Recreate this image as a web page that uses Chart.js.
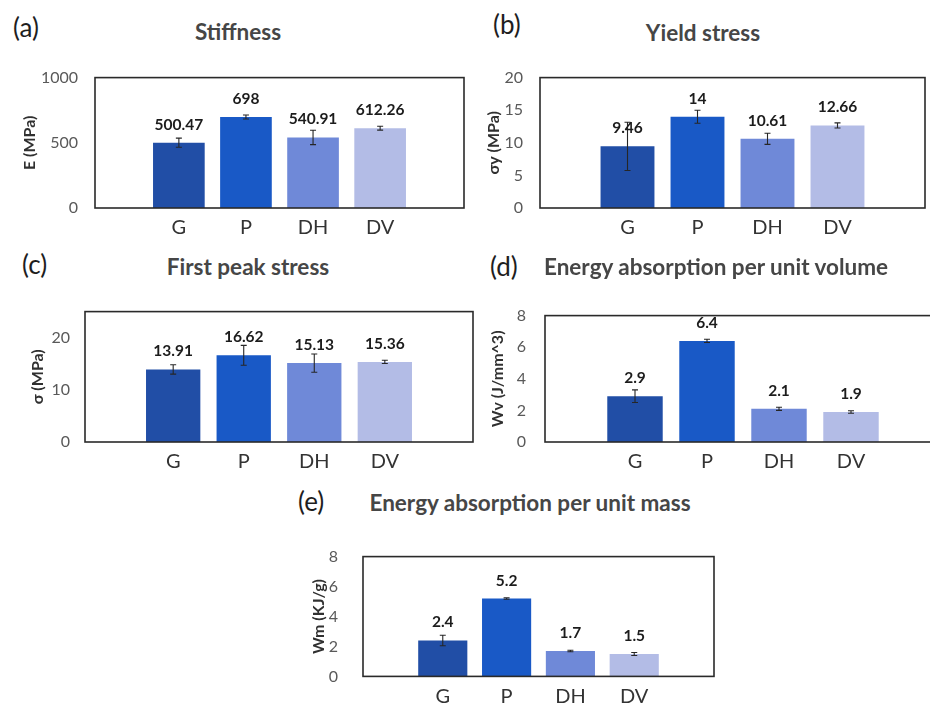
<!DOCTYPE html>
<html>
<head>
<meta charset="utf-8">
<script src="https://cdn.jsdelivr.net/npm/chart.js@4.4.1/dist/chart.umd.min.js"></script>
<style>
  html, body { margin: 0; padding: 0; background: #fff; overflow: hidden; width: 930px; height: 708px; }
  body { position: relative; font-family: Lato, 'Open Sans', sans-serif; }
  .panel { position: absolute; }
  .tag { position: absolute; font-size: 26px; color: #1e1e1e; line-height: 1; white-space: nowrap; transform: translateY(-50%); }
  .ttl { position: absolute; font-size: 22.5px; font-weight: 700; color: #464646; line-height: 1; white-space: nowrap; transform: translate(-50%, -50%); }
</style>
</head>
<body>
<script>
// groups tested
const groups = ['G', 'P', 'DH', 'DV'];

// mean values and error half-widths per property
const stiffness = [500.47, 698, 540.91, 612.26];
const stiffnessErr = [35, 15, 55, 15];
const yieldStress = [9.46, 14, 10.61, 12.66];
const yieldStressErr = [3.7, 1.0, 0.85, 0.4];
const peakStress = [13.91, 16.62, 15.13, 15.36];
const peakStressErr = [0.9, 1.9, 1.75, 0.3];
const energyVolume = [2.9, 6.4, 2.1, 1.9];
const energyVolumeErr = [0.4, 0.1, 0.1, 0.08];
const energyMass = [2.4, 5.2, 1.7, 1.5];
const energyMassErr = [0.35, 0.05, 0.05, 0.1];

const barColors = ['#214ea6', '#1959c6', '#6f89d8', '#b3bce6'];
const FONT = "Lato, 'Open Sans', sans-serif";

// ── panel layout (box = plot frame in page pixels) ───────
const panels = [
  { tag: '(a)', tagX: 13, tagY: 27, title: 'Stiffness', titleX: 238, titleY: 32,
    yLabel: 'E (MPa)', values: stiffness, errors: stiffnessErr, max: 1000, step: 500,
    box: { l: 95, t: 63, r: 464, b: 208 }, tickPad: 17, yTitleX: 30 },
  { tag: '(b)', tagX: 493, tagY: 24, title: 'Yield stress', titleX: 703, titleY: 33,
    yLabel: 'σy (MPa)', values: yieldStress, errors: yieldStressErr, max: 20, step: 5,
    box: { l: 540, t: 63, r: 925, b: 208 }, tickPad: 17, yTitleX: 494 },
  { tag: '(c)', tagX: 22, tagY: 264, title: 'First peak stress', titleX: 248, titleY: 267,
    yLabel: 'σ (MPa)', values: peakStress, errors: peakStressErr, max: 25, step: 10,
    box: { l: 85, t: 299, r: 473, b: 442 }, tickPad: 15, yTitleX: 38 },
  { tag: '(d)', tagX: 490, tagY: 266, title: 'Energy absorption per unit volume', titleX: 716, titleY: 267,
    yLabel: 'Wv (J/mm^3)', values: energyVolume, errors: energyVolumeErr, max: 8, step: 2,
    box: { l: 545, t: 299, r: 941, b: 442 }, tickPad: 19, yTitleX: 498 },
  { tag: '(e)', tagX: 298, tagY: 501, title: 'Energy absorption per unit mass', titleX: 530, titleY: 503,
    yLabel: 'Wm (KJ/g)', values: energyMass, errors: energyMassErr, max: 8, step: 2,
    box: { l: 363, t: 534, r: 714, b: 677 }, tickPad: 25, yTitleX: 319 },
];

const PAD_L = 80, PAD_T = 12, PAD_R = 6, PAD_B = 34;
const Y_TITLE_SIZE = 16, X_LABEL_SIZE = 20;

// frame around the plot area
const framePlugin = {
  id: 'frame',
  afterDraw(chart) {
    const { ctx, chartArea: a } = chart;
    ctx.save();
    ctx.strokeStyle = '#2a2a2a';
    ctx.lineWidth = 1.6;
    ctx.strokeRect(a.left, a.top, a.right - a.left, a.bottom - a.top);
    ctx.restore();
  }
};

// error bars + value labels above each bar
const errorBarPlugin = {
  id: 'errorBars',
  afterDatasetsDraw(chart, args, opts) {
    const { ctx, scales: { y } } = chart;
    const ds = chart.data.datasets[0];
    chart.getDatasetMeta(0).data.forEach((bar, i) => {
      const v = ds.data[i].y, e = opts.errors[i];
      const yHi = y.getPixelForValue(v + e), yLo = y.getPixelForValue(v - e);
      ctx.save();
      ctx.strokeStyle = '#262626';
      ctx.lineWidth = 1.1;
      ctx.beginPath();
      ctx.moveTo(bar.x, yHi); ctx.lineTo(bar.x, yLo);
      ctx.moveTo(bar.x - 3, yHi); ctx.lineTo(bar.x + 3, yHi);
      ctx.moveTo(bar.x - 3, yLo); ctx.lineTo(bar.x + 3, yLo);
      ctx.stroke();
      ctx.fillStyle = '#1c1c1c';
      ctx.font = `bold 15.5px ${FONT}`;
      ctx.textAlign = 'center';
      ctx.textBaseline = 'middle';
      ctx.fillText(String(v), bar.x, bar.y - 18);
      ctx.restore();
    });
  }
};

panels.forEach(p => {
  const b = p.box;
  const w = b.r - b.l + PAD_L + PAD_R;
  const h = b.b - b.t + PAD_T + PAD_B;
  const wrap = document.createElement('div');
  wrap.className = 'panel';
  wrap.style.left = (b.l - PAD_L) + 'px';
  wrap.style.top = (b.t - PAD_T) + 'px';
  wrap.style.width = w + 'px';
  wrap.style.height = h + 'px';
  const canvas = document.createElement('canvas');
  canvas.width = w; canvas.height = h;
  wrap.appendChild(canvas);
  document.body.appendChild(wrap);

  const titleLh = Y_TITLE_SIZE * 1.2;
  const xLh = X_LABEL_SIZE * 1.2;

  new Chart(canvas, {
    type: 'bar',
    data: {
      datasets: [{
        data: p.values.map((v, i) => ({ x: i, y: v })),
        backgroundColor: barColors,
        borderWidth: 0,
        barPercentage: 0.77,
        categoryPercentage: 1,
      }],
    },
    options: {
      responsive: false,
      animation: false,
      layout: { padding: { left: 0, top: PAD_T, right: PAD_R, bottom: 0 } },
      plugins: {
        legend: { display: false },
        tooltip: { enabled: false },
        errorBars: { errors: p.errors },
      },
      scales: {
        x: {
          type: 'linear',
          min: -1.25, max: 4.25,
          offset: false,
          grid: { display: false, drawTicks: false },
          border: { display: false },
          afterBuildTicks: s => { s.ticks = groups.map((g, i) => ({ value: i })); },
          afterFit: s => { s.height = PAD_B; },
          ticks: {
            padding: 20 - xLh / 2,
            color: '#333',
            font: { family: FONT, size: X_LABEL_SIZE },
            callback: v => groups[v],
            maxRotation: 0,
          },
        },
        y: {
          min: 0, max: p.max,
          grid: { display: false, drawTicks: false },
          border: { display: false },
          afterFit: s => { s.width = PAD_L; },
          ticks: {
            stepSize: p.step,
            includeBounds: false,
            padding: p.tickPad,
            color: '#595959',
            font: { family: FONT, size: 16 },
            callback: v => String(v),
          },
          title: {
            display: true,
            text: p.yLabel,
            color: '#303030',
            font: { family: FONT, size: Y_TITLE_SIZE, weight: 'bold' },
            padding: { top: p.yTitleX - (b.l - PAD_L) - titleLh / 2, bottom: 0 },
          },
        },
      },
    },
    plugins: [errorBarPlugin, framePlugin],
  });

  const tag = document.createElement('div');
  tag.className = 'tag';
  tag.textContent = p.tag;
  tag.style.left = p.tagX + 'px';
  tag.style.top = p.tagY + 'px';
  document.body.appendChild(tag);

  const ttl = document.createElement('div');
  ttl.className = 'ttl';
  ttl.textContent = p.title;
  ttl.style.left = p.titleX + 'px';
  ttl.style.top = p.titleY + 'px';
  document.body.appendChild(ttl);
});
</script>
</body>
</html>
